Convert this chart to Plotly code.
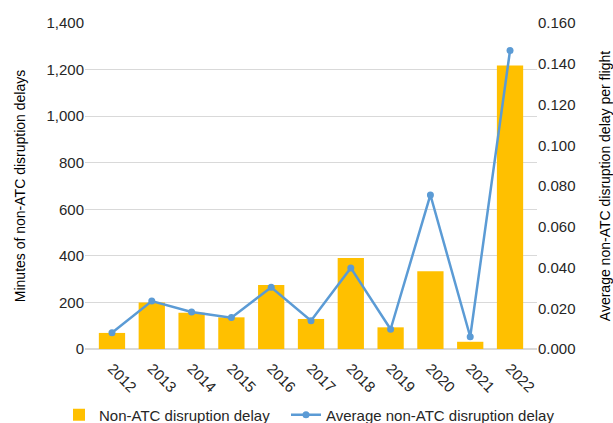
import plotly.graph_objects as go

years = ["2012", "2013", "2014", "2015", "2016", "2017", "2018", "2019", "2020", "2021", "2022"]
delay_minutes = [69, 200, 156, 136, 275, 129, 391, 93, 334, 31, 1218]
avg_delay_per_flight = [0.008, 0.0235, 0.0182, 0.0154, 0.0303, 0.0139, 0.0398, 0.0097, 0.0756, 0.006, 0.1465]

FONT = "Liberation Sans"
TICK_COLOR = "#262626"

fig = go.Figure()
fig.add_trace(go.Bar(
    x=years, y=delay_minutes, name="Non-ATC disruption delay",
    marker=dict(color="#FFC000", line=dict(width=0)), yaxis="y", legend="legend",
))
fig.add_trace(go.Scatter(
    x=years, y=avg_delay_per_flight, name="Average non-ATC disruption delay",
    mode="lines+markers", yaxis="y2", legend="legend2",
    line=dict(color="#5B9BD5", width=2.5),
    marker=dict(color="#5B9BD5", size=7),
))

legend_common = dict(orientation="h", xref="container", yref="container",
                     xanchor="left", yanchor="top", y=0.058,
                     font=dict(size=15, color=TICK_COLOR), itemwidth=30,
                     bgcolor="rgba(0,0,0,0)")

fig.update_layout(
    width=613, height=423,
    margin=dict(l=85, r=76, t=23, b=74, autoexpand=False),
    paper_bgcolor="white", plot_bgcolor="white",
    font=dict(family=FONT, size=15, color=TICK_COLOR),
    bargap=0.34,
    showlegend=True,
    legend=dict(x=59 / 613, **legend_common),
    legend2=dict(x=286 / 613, **legend_common),
    xaxis=dict(tickangle=45, showgrid=False, showline=False, ticks="", automargin=False,
               ticklabelstandoff=7, tickfont=dict(size=15, color=TICK_COLOR)),
    yaxis=dict(range=[0, 1400], dtick=200, tickformat=",", showgrid=True, automargin=False,
               gridcolor="#D9D9D9", gridwidth=1, zeroline=True, zerolinecolor="#D9D9D9",
               tickfont=dict(size=15, color=TICK_COLOR),
               title=dict(text="Minutes of non-ATC disruption delays", font=dict(size=14, color="#000000"), standoff=17),
               ticks="", showline=False),
    yaxis2=dict(range=[0, 0.16], dtick=0.02, tickformat=".3f", overlaying="y", side="right",
                automargin=False, tickfont=dict(size=15, color=TICK_COLOR),
                showgrid=False, zeroline=False, ticks="", showline=False,
                title=dict(text="Average non-ATC disruption delay per flight", font=dict(size=14, color="#000000"), standoff=25)),
)

fig.write_html("out.html")
